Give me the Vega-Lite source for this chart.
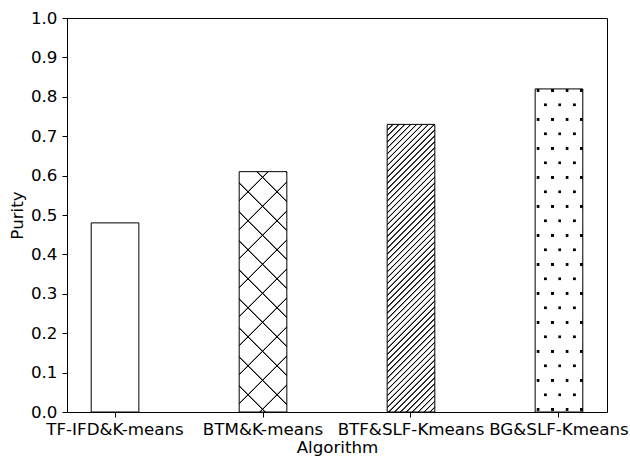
{
  "$schema": "https://vega.github.io/schema/vega-lite/v6.json",
  "width": 540,
  "height": 394,
  "autosize": {"type": "none"},
  "padding": {"left": 67, "top": 18, "right": 23, "bottom": 44},
  "background": "white",
  "config": {
    "font": "DejaVu Sans",
    "view": {"stroke": "black", "strokeWidth": 1},
    "axis": {
      "labelFont": "DejaVu Sans",
      "titleFont": "DejaVu Sans",
      "labelFontSize": 16.7,
      "titleFontSize": 16.7,
      "titleFontWeight": "normal",
      "labelColor": "black",
      "titleColor": "black",
      "tickColor": "black",
      "domainColor": "black",
      "tickSize": 5,
      "grid": false
    }
  },
  "data": {
    "values": [
      {"algorithm": "TF-IFD&K-means", "purity": 0.48},
      {"algorithm": "BTM&K-means", "purity": 0.61},
      {"algorithm": "BTF&SLF-Kmeans", "purity": 0.73},
      {"algorithm": "BG&SLF-Kmeans", "purity": 0.82}
    ]
  },
  "encoding": {
    "x": {
      "field": "algorithm",
      "type": "nominal",
      "sort": null,
      "scale": {
        "domain": ["TF-IFD&K-means", "BTM&K-means", "BTF&SLF-Kmeans", "BG&SLF-Kmeans"],
        "paddingInner": 0.678,
        "paddingOuter": 0.1635
      },
      "axis": {"title": "Algorithm", "labelAngle": 0, "labelPadding": 4, "titlePadding": 2, "domain": false, "labelOverlap": false}
    },
    "y": {
      "field": "purity",
      "type": "quantitative",
      "scale": {"domain": [0, 1], "nice": false},
      "axis": {
        "title": "Purity",
        "values": [0, 0.1, 0.2, 0.3, 0.4, 0.5, 0.6, 0.7, 0.8, 0.9, 1.0],
        "format": ".1f",
        "labelPadding": 5,
        "titlePadding": 4,
        "domain": false
      }
    }
  },
  "layer": [
    {"mark": {"type": "bar", "fill": "white"}},
    {
      "transform": [{"filter": "datum.algorithm == 'BTM&K-means'"}],
      "mark": {"type": "bar", "fill": {"gradient": "linear", "x1": 0, "y1": 0, "x2": 0.23019, "y2": 1.16098, "stops": [
        {"offset": 0.0962, "color": "rgba(0,0,0,0)"}, {"offset": 0.0988, "color": "#000"}, {"offset": 0.1012, "color": "#000"}, {"offset": 0.1038, "color": "rgba(0,0,0,0)"},
        {"offset": 0.1962, "color": "rgba(0,0,0,0)"}, {"offset": 0.1988, "color": "#000"}, {"offset": 0.2012, "color": "#000"}, {"offset": 0.2038, "color": "rgba(0,0,0,0)"},
        {"offset": 0.2962, "color": "rgba(0,0,0,0)"}, {"offset": 0.2988, "color": "#000"}, {"offset": 0.3012, "color": "#000"}, {"offset": 0.3038, "color": "rgba(0,0,0,0)"},
        {"offset": 0.3962, "color": "rgba(0,0,0,0)"}, {"offset": 0.3988, "color": "#000"}, {"offset": 0.4012, "color": "#000"}, {"offset": 0.4038, "color": "rgba(0,0,0,0)"},
        {"offset": 0.4962, "color": "rgba(0,0,0,0)"}, {"offset": 0.4988, "color": "#000"}, {"offset": 0.5012, "color": "#000"}, {"offset": 0.5038, "color": "rgba(0,0,0,0)"},
        {"offset": 0.5962, "color": "rgba(0,0,0,0)"}, {"offset": 0.5988, "color": "#000"}, {"offset": 0.6012, "color": "#000"}, {"offset": 0.6038, "color": "rgba(0,0,0,0)"},
        {"offset": 0.6962, "color": "rgba(0,0,0,0)"}, {"offset": 0.6988, "color": "#000"}, {"offset": 0.7012, "color": "#000"}, {"offset": 0.7038, "color": "rgba(0,0,0,0)"},
        {"offset": 0.7962, "color": "rgba(0,0,0,0)"}, {"offset": 0.7988, "color": "#000"}, {"offset": 0.8012, "color": "#000"}, {"offset": 0.8038, "color": "rgba(0,0,0,0)"},
        {"offset": 0.8962, "color": "rgba(0,0,0,0)"}, {"offset": 0.8988, "color": "#000"}, {"offset": 0.9012, "color": "#000"}, {"offset": 0.9038, "color": "rgba(0,0,0,0)"}
      ]}}
    },
    {
      "transform": [{"filter": "datum.algorithm == 'BTM&K-means'"}],
      "mark": {"type": "bar", "fill": {"gradient": "linear", "x1": 0, "y1": 1, "x2": 0.23019, "y2": -0.16098, "stops": [
        {"offset": 0.0862, "color": "rgba(0,0,0,0)"}, {"offset": 0.0888, "color": "#000"}, {"offset": 0.0912, "color": "#000"}, {"offset": 0.0938, "color": "rgba(0,0,0,0)"},
        {"offset": 0.1862, "color": "rgba(0,0,0,0)"}, {"offset": 0.1888, "color": "#000"}, {"offset": 0.1912, "color": "#000"}, {"offset": 0.1938, "color": "rgba(0,0,0,0)"},
        {"offset": 0.2862, "color": "rgba(0,0,0,0)"}, {"offset": 0.2888, "color": "#000"}, {"offset": 0.2912, "color": "#000"}, {"offset": 0.2938, "color": "rgba(0,0,0,0)"},
        {"offset": 0.3862, "color": "rgba(0,0,0,0)"}, {"offset": 0.3888, "color": "#000"}, {"offset": 0.3912, "color": "#000"}, {"offset": 0.3938, "color": "rgba(0,0,0,0)"},
        {"offset": 0.4862, "color": "rgba(0,0,0,0)"}, {"offset": 0.4888, "color": "#000"}, {"offset": 0.4912, "color": "#000"}, {"offset": 0.4938, "color": "rgba(0,0,0,0)"},
        {"offset": 0.5862, "color": "rgba(0,0,0,0)"}, {"offset": 0.5888, "color": "#000"}, {"offset": 0.5912, "color": "#000"}, {"offset": 0.5938, "color": "rgba(0,0,0,0)"},
        {"offset": 0.6862, "color": "rgba(0,0,0,0)"}, {"offset": 0.6888, "color": "#000"}, {"offset": 0.6912, "color": "#000"}, {"offset": 0.6938, "color": "rgba(0,0,0,0)"},
        {"offset": 0.7862, "color": "rgba(0,0,0,0)"}, {"offset": 0.7888, "color": "#000"}, {"offset": 0.7912, "color": "#000"}, {"offset": 0.7938, "color": "rgba(0,0,0,0)"},
        {"offset": 0.8862, "color": "rgba(0,0,0,0)"}, {"offset": 0.8888, "color": "#000"}, {"offset": 0.8912, "color": "#000"}, {"offset": 0.8938, "color": "rgba(0,0,0,0)"},
        {"offset": 0.9862, "color": "rgba(0,0,0,0)"}, {"offset": 0.9888, "color": "#000"}, {"offset": 0.9912, "color": "#000"}, {"offset": 0.9938, "color": "rgba(0,0,0,0)"}
      ]}}
    },
    {
      "transform": [{"filter": "datum.algorithm == 'BTF&SLF-Kmeans'"}],
      "mark": {"type": "bar", "fill": {"gradient": "linear", "x1": 0, "y1": 0, "x2": 0.33078, "y2": 1.99652, "stops": [
        {"offset": 0.0081, "color": "rgba(0,0,0,0)"}, {"offset": 0.0094, "color": "#000"}, {"offset": 0.0106, "color": "#000"}, {"offset": 0.0119, "color": "rgba(0,0,0,0)"},
        {"offset": 0.0181, "color": "rgba(0,0,0,0)"}, {"offset": 0.0194, "color": "#000"}, {"offset": 0.0206, "color": "#000"}, {"offset": 0.0219, "color": "rgba(0,0,0,0)"},
        {"offset": 0.0281, "color": "rgba(0,0,0,0)"}, {"offset": 0.0294, "color": "#000"}, {"offset": 0.0306, "color": "#000"}, {"offset": 0.0319, "color": "rgba(0,0,0,0)"},
        {"offset": 0.0381, "color": "rgba(0,0,0,0)"}, {"offset": 0.0394, "color": "#000"}, {"offset": 0.0406, "color": "#000"}, {"offset": 0.0419, "color": "rgba(0,0,0,0)"},
        {"offset": 0.0481, "color": "rgba(0,0,0,0)"}, {"offset": 0.0494, "color": "#000"}, {"offset": 0.0506, "color": "#000"}, {"offset": 0.0519, "color": "rgba(0,0,0,0)"},
        {"offset": 0.0581, "color": "rgba(0,0,0,0)"}, {"offset": 0.0594, "color": "#000"}, {"offset": 0.0606, "color": "#000"}, {"offset": 0.0619, "color": "rgba(0,0,0,0)"},
        {"offset": 0.0681, "color": "rgba(0,0,0,0)"}, {"offset": 0.0694, "color": "#000"}, {"offset": 0.0706, "color": "#000"}, {"offset": 0.0719, "color": "rgba(0,0,0,0)"},
        {"offset": 0.0781, "color": "rgba(0,0,0,0)"}, {"offset": 0.0794, "color": "#000"}, {"offset": 0.0806, "color": "#000"}, {"offset": 0.0819, "color": "rgba(0,0,0,0)"},
        {"offset": 0.0881, "color": "rgba(0,0,0,0)"}, {"offset": 0.0894, "color": "#000"}, {"offset": 0.0906, "color": "#000"}, {"offset": 0.0919, "color": "rgba(0,0,0,0)"},
        {"offset": 0.0981, "color": "rgba(0,0,0,0)"}, {"offset": 0.0994, "color": "#000"}, {"offset": 0.1006, "color": "#000"}, {"offset": 0.1019, "color": "rgba(0,0,0,0)"},
        {"offset": 0.1081, "color": "rgba(0,0,0,0)"}, {"offset": 0.1094, "color": "#000"}, {"offset": 0.1106, "color": "#000"}, {"offset": 0.1119, "color": "rgba(0,0,0,0)"},
        {"offset": 0.1181, "color": "rgba(0,0,0,0)"}, {"offset": 0.1194, "color": "#000"}, {"offset": 0.1206, "color": "#000"}, {"offset": 0.1219, "color": "rgba(0,0,0,0)"},
        {"offset": 0.1281, "color": "rgba(0,0,0,0)"}, {"offset": 0.1294, "color": "#000"}, {"offset": 0.1306, "color": "#000"}, {"offset": 0.1319, "color": "rgba(0,0,0,0)"},
        {"offset": 0.1381, "color": "rgba(0,0,0,0)"}, {"offset": 0.1394, "color": "#000"}, {"offset": 0.1406, "color": "#000"}, {"offset": 0.1419, "color": "rgba(0,0,0,0)"},
        {"offset": 0.1481, "color": "rgba(0,0,0,0)"}, {"offset": 0.1494, "color": "#000"}, {"offset": 0.1506, "color": "#000"}, {"offset": 0.1519, "color": "rgba(0,0,0,0)"},
        {"offset": 0.1581, "color": "rgba(0,0,0,0)"}, {"offset": 0.1594, "color": "#000"}, {"offset": 0.1606, "color": "#000"}, {"offset": 0.1619, "color": "rgba(0,0,0,0)"},
        {"offset": 0.1681, "color": "rgba(0,0,0,0)"}, {"offset": 0.1694, "color": "#000"}, {"offset": 0.1706, "color": "#000"}, {"offset": 0.1719, "color": "rgba(0,0,0,0)"},
        {"offset": 0.1781, "color": "rgba(0,0,0,0)"}, {"offset": 0.1794, "color": "#000"}, {"offset": 0.1806, "color": "#000"}, {"offset": 0.1819, "color": "rgba(0,0,0,0)"},
        {"offset": 0.1881, "color": "rgba(0,0,0,0)"}, {"offset": 0.1894, "color": "#000"}, {"offset": 0.1906, "color": "#000"}, {"offset": 0.1919, "color": "rgba(0,0,0,0)"},
        {"offset": 0.1981, "color": "rgba(0,0,0,0)"}, {"offset": 0.1994, "color": "#000"}, {"offset": 0.2006, "color": "#000"}, {"offset": 0.2019, "color": "rgba(0,0,0,0)"},
        {"offset": 0.2081, "color": "rgba(0,0,0,0)"}, {"offset": 0.2094, "color": "#000"}, {"offset": 0.2106, "color": "#000"}, {"offset": 0.2119, "color": "rgba(0,0,0,0)"},
        {"offset": 0.2181, "color": "rgba(0,0,0,0)"}, {"offset": 0.2194, "color": "#000"}, {"offset": 0.2206, "color": "#000"}, {"offset": 0.2219, "color": "rgba(0,0,0,0)"},
        {"offset": 0.2281, "color": "rgba(0,0,0,0)"}, {"offset": 0.2294, "color": "#000"}, {"offset": 0.2306, "color": "#000"}, {"offset": 0.2319, "color": "rgba(0,0,0,0)"},
        {"offset": 0.2381, "color": "rgba(0,0,0,0)"}, {"offset": 0.2394, "color": "#000"}, {"offset": 0.2406, "color": "#000"}, {"offset": 0.2419, "color": "rgba(0,0,0,0)"},
        {"offset": 0.2481, "color": "rgba(0,0,0,0)"}, {"offset": 0.2494, "color": "#000"}, {"offset": 0.2506, "color": "#000"}, {"offset": 0.2519, "color": "rgba(0,0,0,0)"},
        {"offset": 0.2581, "color": "rgba(0,0,0,0)"}, {"offset": 0.2594, "color": "#000"}, {"offset": 0.2606, "color": "#000"}, {"offset": 0.2619, "color": "rgba(0,0,0,0)"},
        {"offset": 0.2681, "color": "rgba(0,0,0,0)"}, {"offset": 0.2694, "color": "#000"}, {"offset": 0.2706, "color": "#000"}, {"offset": 0.2719, "color": "rgba(0,0,0,0)"},
        {"offset": 0.2781, "color": "rgba(0,0,0,0)"}, {"offset": 0.2794, "color": "#000"}, {"offset": 0.2806, "color": "#000"}, {"offset": 0.2819, "color": "rgba(0,0,0,0)"},
        {"offset": 0.2881, "color": "rgba(0,0,0,0)"}, {"offset": 0.2894, "color": "#000"}, {"offset": 0.2906, "color": "#000"}, {"offset": 0.2919, "color": "rgba(0,0,0,0)"},
        {"offset": 0.2981, "color": "rgba(0,0,0,0)"}, {"offset": 0.2994, "color": "#000"}, {"offset": 0.3006, "color": "#000"}, {"offset": 0.3019, "color": "rgba(0,0,0,0)"},
        {"offset": 0.3081, "color": "rgba(0,0,0,0)"}, {"offset": 0.3094, "color": "#000"}, {"offset": 0.3106, "color": "#000"}, {"offset": 0.3119, "color": "rgba(0,0,0,0)"},
        {"offset": 0.3181, "color": "rgba(0,0,0,0)"}, {"offset": 0.3194, "color": "#000"}, {"offset": 0.3206, "color": "#000"}, {"offset": 0.3219, "color": "rgba(0,0,0,0)"},
        {"offset": 0.3281, "color": "rgba(0,0,0,0)"}, {"offset": 0.3294, "color": "#000"}, {"offset": 0.3306, "color": "#000"}, {"offset": 0.3319, "color": "rgba(0,0,0,0)"},
        {"offset": 0.3381, "color": "rgba(0,0,0,0)"}, {"offset": 0.3394, "color": "#000"}, {"offset": 0.3406, "color": "#000"}, {"offset": 0.3419, "color": "rgba(0,0,0,0)"},
        {"offset": 0.3481, "color": "rgba(0,0,0,0)"}, {"offset": 0.3494, "color": "#000"}, {"offset": 0.3506, "color": "#000"}, {"offset": 0.3519, "color": "rgba(0,0,0,0)"},
        {"offset": 0.3581, "color": "rgba(0,0,0,0)"}, {"offset": 0.3594, "color": "#000"}, {"offset": 0.3606, "color": "#000"}, {"offset": 0.3619, "color": "rgba(0,0,0,0)"},
        {"offset": 0.3681, "color": "rgba(0,0,0,0)"}, {"offset": 0.3694, "color": "#000"}, {"offset": 0.3706, "color": "#000"}, {"offset": 0.3719, "color": "rgba(0,0,0,0)"},
        {"offset": 0.3781, "color": "rgba(0,0,0,0)"}, {"offset": 0.3794, "color": "#000"}, {"offset": 0.3806, "color": "#000"}, {"offset": 0.3819, "color": "rgba(0,0,0,0)"},
        {"offset": 0.3881, "color": "rgba(0,0,0,0)"}, {"offset": 0.3894, "color": "#000"}, {"offset": 0.3906, "color": "#000"}, {"offset": 0.3919, "color": "rgba(0,0,0,0)"},
        {"offset": 0.3981, "color": "rgba(0,0,0,0)"}, {"offset": 0.3994, "color": "#000"}, {"offset": 0.4006, "color": "#000"}, {"offset": 0.4019, "color": "rgba(0,0,0,0)"},
        {"offset": 0.4081, "color": "rgba(0,0,0,0)"}, {"offset": 0.4094, "color": "#000"}, {"offset": 0.4106, "color": "#000"}, {"offset": 0.4119, "color": "rgba(0,0,0,0)"},
        {"offset": 0.4181, "color": "rgba(0,0,0,0)"}, {"offset": 0.4194, "color": "#000"}, {"offset": 0.4206, "color": "#000"}, {"offset": 0.4219, "color": "rgba(0,0,0,0)"},
        {"offset": 0.4281, "color": "rgba(0,0,0,0)"}, {"offset": 0.4294, "color": "#000"}, {"offset": 0.4306, "color": "#000"}, {"offset": 0.4319, "color": "rgba(0,0,0,0)"},
        {"offset": 0.4381, "color": "rgba(0,0,0,0)"}, {"offset": 0.4394, "color": "#000"}, {"offset": 0.4406, "color": "#000"}, {"offset": 0.4419, "color": "rgba(0,0,0,0)"},
        {"offset": 0.4481, "color": "rgba(0,0,0,0)"}, {"offset": 0.4494, "color": "#000"}, {"offset": 0.4506, "color": "#000"}, {"offset": 0.4519, "color": "rgba(0,0,0,0)"},
        {"offset": 0.4581, "color": "rgba(0,0,0,0)"}, {"offset": 0.4594, "color": "#000"}, {"offset": 0.4606, "color": "#000"}, {"offset": 0.4619, "color": "rgba(0,0,0,0)"},
        {"offset": 0.4681, "color": "rgba(0,0,0,0)"}, {"offset": 0.4694, "color": "#000"}, {"offset": 0.4706, "color": "#000"}, {"offset": 0.4719, "color": "rgba(0,0,0,0)"},
        {"offset": 0.4781, "color": "rgba(0,0,0,0)"}, {"offset": 0.4794, "color": "#000"}, {"offset": 0.4806, "color": "#000"}, {"offset": 0.4819, "color": "rgba(0,0,0,0)"},
        {"offset": 0.4881, "color": "rgba(0,0,0,0)"}, {"offset": 0.4894, "color": "#000"}, {"offset": 0.4906, "color": "#000"}, {"offset": 0.4919, "color": "rgba(0,0,0,0)"},
        {"offset": 0.4981, "color": "rgba(0,0,0,0)"}, {"offset": 0.4994, "color": "#000"}, {"offset": 0.5006, "color": "#000"}, {"offset": 0.5019, "color": "rgba(0,0,0,0)"},
        {"offset": 0.5081, "color": "rgba(0,0,0,0)"}, {"offset": 0.5094, "color": "#000"}, {"offset": 0.5106, "color": "#000"}, {"offset": 0.5119, "color": "rgba(0,0,0,0)"},
        {"offset": 0.5181, "color": "rgba(0,0,0,0)"}, {"offset": 0.5194, "color": "#000"}, {"offset": 0.5206, "color": "#000"}, {"offset": 0.5219, "color": "rgba(0,0,0,0)"},
        {"offset": 0.5281, "color": "rgba(0,0,0,0)"}, {"offset": 0.5294, "color": "#000"}, {"offset": 0.5306, "color": "#000"}, {"offset": 0.5319, "color": "rgba(0,0,0,0)"},
        {"offset": 0.5381, "color": "rgba(0,0,0,0)"}, {"offset": 0.5394, "color": "#000"}, {"offset": 0.5406, "color": "#000"}, {"offset": 0.5419, "color": "rgba(0,0,0,0)"},
        {"offset": 0.5481, "color": "rgba(0,0,0,0)"}, {"offset": 0.5494, "color": "#000"}, {"offset": 0.5506, "color": "#000"}, {"offset": 0.5519, "color": "rgba(0,0,0,0)"},
        {"offset": 0.5581, "color": "rgba(0,0,0,0)"}, {"offset": 0.5594, "color": "#000"}, {"offset": 0.5606, "color": "#000"}, {"offset": 0.5619, "color": "rgba(0,0,0,0)"}
      ]}}
    },
    {
      "transform": [{"filter": "datum.algorithm == 'BG&SLF-Kmeans'"}],
      "mark": {"type": "bar", "fill": {"gradient": "linear", "x1": 0, "y1": 0, "x2": 1.21716, "y2": 0, "stops": [
        {"offset": 0.0207, "color": "rgba(0,0,0,0)"}, {"offset": 0.031, "color": "#000"}, {"offset": 0.069, "color": "#000"}, {"offset": 0.0793, "color": "rgba(0,0,0,0)"},
        {"offset": 0.1457, "color": "rgba(0,0,0,0)"}, {"offset": 0.156, "color": "#000"}, {"offset": 0.194, "color": "#000"}, {"offset": 0.2043, "color": "rgba(0,0,0,0)"},
        {"offset": 0.2707, "color": "rgba(0,0,0,0)"}, {"offset": 0.281, "color": "#000"}, {"offset": 0.319, "color": "#000"}, {"offset": 0.3293, "color": "rgba(0,0,0,0)"},
        {"offset": 0.3957, "color": "rgba(0,0,0,0)"}, {"offset": 0.406, "color": "#000"}, {"offset": 0.444, "color": "#000"}, {"offset": 0.4543, "color": "rgba(0,0,0,0)"},
        {"offset": 0.5207, "color": "rgba(0,0,0,0)"}, {"offset": 0.531, "color": "#000"}, {"offset": 0.569, "color": "#000"}, {"offset": 0.5793, "color": "rgba(0,0,0,0)"},
        {"offset": 0.6457, "color": "rgba(0,0,0,0)"}, {"offset": 0.656, "color": "#000"}, {"offset": 0.694, "color": "#000"}, {"offset": 0.7043, "color": "rgba(0,0,0,0)"},
        {"offset": 0.7707, "color": "rgba(0,0,0,0)"}, {"offset": 0.781, "color": "#000"}, {"offset": 0.819, "color": "#000"}, {"offset": 0.8293, "color": "rgba(0,0,0,0)"}
      ]}}
    },
    {
      "transform": [{"filter": "datum.algorithm == 'BG&SLF-Kmeans'"}],
      "mark": {"type": "bar", "fill": {"gradient": "linear", "x1": 0, "y1": 0, "x2": 0, "y2": 1.12201, "stops": [
        {"offset": 0, "color": "rgba(255,255,255,0)"}, {"offset": 0.007, "color": "rgba(255,255,255,0)"}, {"offset": 0.0087, "color": "white"},
        {"offset": 0.0393, "color": "white"}, {"offset": 0.041, "color": "rgba(255,255,255,0)"}, {"offset": 0.047, "color": "rgba(255,255,255,0)"}, {"offset": 0.0487, "color": "white"},
        {"offset": 0.0793, "color": "white"}, {"offset": 0.081, "color": "rgba(255,255,255,0)"}, {"offset": 0.087, "color": "rgba(255,255,255,0)"}, {"offset": 0.0887, "color": "white"},
        {"offset": 0.1193, "color": "white"}, {"offset": 0.121, "color": "rgba(255,255,255,0)"}, {"offset": 0.127, "color": "rgba(255,255,255,0)"}, {"offset": 0.1287, "color": "white"},
        {"offset": 0.1593, "color": "white"}, {"offset": 0.161, "color": "rgba(255,255,255,0)"}, {"offset": 0.167, "color": "rgba(255,255,255,0)"}, {"offset": 0.1687, "color": "white"},
        {"offset": 0.1993, "color": "white"}, {"offset": 0.201, "color": "rgba(255,255,255,0)"}, {"offset": 0.207, "color": "rgba(255,255,255,0)"}, {"offset": 0.2087, "color": "white"},
        {"offset": 0.2393, "color": "white"}, {"offset": 0.241, "color": "rgba(255,255,255,0)"}, {"offset": 0.247, "color": "rgba(255,255,255,0)"}, {"offset": 0.2487, "color": "white"},
        {"offset": 0.2793, "color": "white"}, {"offset": 0.281, "color": "rgba(255,255,255,0)"}, {"offset": 0.287, "color": "rgba(255,255,255,0)"}, {"offset": 0.2887, "color": "white"},
        {"offset": 0.3193, "color": "white"}, {"offset": 0.321, "color": "rgba(255,255,255,0)"}, {"offset": 0.327, "color": "rgba(255,255,255,0)"}, {"offset": 0.3287, "color": "white"},
        {"offset": 0.3593, "color": "white"}, {"offset": 0.361, "color": "rgba(255,255,255,0)"}, {"offset": 0.367, "color": "rgba(255,255,255,0)"}, {"offset": 0.3687, "color": "white"},
        {"offset": 0.3993, "color": "white"}, {"offset": 0.401, "color": "rgba(255,255,255,0)"}, {"offset": 0.407, "color": "rgba(255,255,255,0)"}, {"offset": 0.4087, "color": "white"},
        {"offset": 0.4393, "color": "white"}, {"offset": 0.441, "color": "rgba(255,255,255,0)"}, {"offset": 0.447, "color": "rgba(255,255,255,0)"}, {"offset": 0.4487, "color": "white"},
        {"offset": 0.4793, "color": "white"}, {"offset": 0.481, "color": "rgba(255,255,255,0)"}, {"offset": 0.487, "color": "rgba(255,255,255,0)"}, {"offset": 0.4887, "color": "white"},
        {"offset": 0.5193, "color": "white"}, {"offset": 0.521, "color": "rgba(255,255,255,0)"}, {"offset": 0.527, "color": "rgba(255,255,255,0)"}, {"offset": 0.5287, "color": "white"},
        {"offset": 0.5593, "color": "white"}, {"offset": 0.561, "color": "rgba(255,255,255,0)"}, {"offset": 0.567, "color": "rgba(255,255,255,0)"}, {"offset": 0.5687, "color": "white"},
        {"offset": 0.5993, "color": "white"}, {"offset": 0.601, "color": "rgba(255,255,255,0)"}, {"offset": 0.607, "color": "rgba(255,255,255,0)"}, {"offset": 0.6087, "color": "white"},
        {"offset": 0.6393, "color": "white"}, {"offset": 0.641, "color": "rgba(255,255,255,0)"}, {"offset": 0.647, "color": "rgba(255,255,255,0)"}, {"offset": 0.6487, "color": "white"},
        {"offset": 0.6793, "color": "white"}, {"offset": 0.681, "color": "rgba(255,255,255,0)"}, {"offset": 0.687, "color": "rgba(255,255,255,0)"}, {"offset": 0.6887, "color": "white"},
        {"offset": 0.7193, "color": "white"}, {"offset": 0.721, "color": "rgba(255,255,255,0)"}, {"offset": 0.727, "color": "rgba(255,255,255,0)"}, {"offset": 0.7287, "color": "white"},
        {"offset": 0.7593, "color": "white"}, {"offset": 0.761, "color": "rgba(255,255,255,0)"}, {"offset": 0.767, "color": "rgba(255,255,255,0)"}, {"offset": 0.7687, "color": "white"},
        {"offset": 0.7993, "color": "white"}, {"offset": 0.801, "color": "rgba(255,255,255,0)"}, {"offset": 0.807, "color": "rgba(255,255,255,0)"}, {"offset": 0.8087, "color": "white"},
        {"offset": 0.8393, "color": "white"}, {"offset": 0.841, "color": "rgba(255,255,255,0)"}, {"offset": 0.847, "color": "rgba(255,255,255,0)"}, {"offset": 0.8487, "color": "white"},
        {"offset": 0.8793, "color": "white"}, {"offset": 0.881, "color": "rgba(255,255,255,0)"}, {"offset": 0.887, "color": "rgba(255,255,255,0)"}, {"offset": 0.8887, "color": "white"},
        {"offset": 1, "color": "white"}
      ]}}
    },
    {
      "transform": [{"filter": "datum.algorithm == 'BG&SLF-Kmeans'"}],
      "mark": {"type": "bar", "fill": {"gradient": "linear", "x1": 0, "y1": 0, "x2": 0.48718, "y2": 1.65152, "stops": [
        {"offset": 0, "color": "rgba(255,255,255,0)"}, {"offset": 0.0225, "color": "rgba(255,255,255,0)"}, {"offset": 0.0255, "color": "white"},
        {"offset": 0.0495, "color": "white"}, {"offset": 0.0525, "color": "rgba(255,255,255,0)"}, {"offset": 0.0725, "color": "rgba(255,255,255,0)"}, {"offset": 0.0755, "color": "white"},
        {"offset": 0.0995, "color": "white"}, {"offset": 0.1025, "color": "rgba(255,255,255,0)"}, {"offset": 0.1225, "color": "rgba(255,255,255,0)"}, {"offset": 0.1255, "color": "white"},
        {"offset": 0.1495, "color": "white"}, {"offset": 0.1525, "color": "rgba(255,255,255,0)"}, {"offset": 0.1725, "color": "rgba(255,255,255,0)"}, {"offset": 0.1755, "color": "white"},
        {"offset": 0.1995, "color": "white"}, {"offset": 0.2025, "color": "rgba(255,255,255,0)"}, {"offset": 0.2225, "color": "rgba(255,255,255,0)"}, {"offset": 0.2255, "color": "white"},
        {"offset": 0.2495, "color": "white"}, {"offset": 0.2525, "color": "rgba(255,255,255,0)"}, {"offset": 0.2725, "color": "rgba(255,255,255,0)"}, {"offset": 0.2755, "color": "white"},
        {"offset": 0.2995, "color": "white"}, {"offset": 0.3025, "color": "rgba(255,255,255,0)"}, {"offset": 0.3225, "color": "rgba(255,255,255,0)"}, {"offset": 0.3255, "color": "white"},
        {"offset": 0.3495, "color": "white"}, {"offset": 0.3525, "color": "rgba(255,255,255,0)"}, {"offset": 0.3725, "color": "rgba(255,255,255,0)"}, {"offset": 0.3755, "color": "white"},
        {"offset": 0.3995, "color": "white"}, {"offset": 0.4025, "color": "rgba(255,255,255,0)"}, {"offset": 0.4225, "color": "rgba(255,255,255,0)"}, {"offset": 0.4255, "color": "white"},
        {"offset": 0.4495, "color": "white"}, {"offset": 0.4525, "color": "rgba(255,255,255,0)"}, {"offset": 0.4725, "color": "rgba(255,255,255,0)"}, {"offset": 0.4755, "color": "white"},
        {"offset": 0.4995, "color": "white"}, {"offset": 0.5025, "color": "rgba(255,255,255,0)"}, {"offset": 0.5225, "color": "rgba(255,255,255,0)"}, {"offset": 0.5255, "color": "white"},
        {"offset": 0.5495, "color": "white"}, {"offset": 0.5525, "color": "rgba(255,255,255,0)"}, {"offset": 0.5725, "color": "rgba(255,255,255,0)"}, {"offset": 0.5755, "color": "white"},
        {"offset": 0.5995, "color": "white"}, {"offset": 0.6025, "color": "rgba(255,255,255,0)"}, {"offset": 0.6225, "color": "rgba(255,255,255,0)"}, {"offset": 0.6255, "color": "white"},
        {"offset": 0.6495, "color": "white"}, {"offset": 0.6525, "color": "rgba(255,255,255,0)"}, {"offset": 0.6725, "color": "rgba(255,255,255,0)"}, {"offset": 0.6755, "color": "white"},
        {"offset": 0.6995, "color": "white"}, {"offset": 0.7025, "color": "rgba(255,255,255,0)"}, {"offset": 0.7225, "color": "rgba(255,255,255,0)"}, {"offset": 0.7255, "color": "white"},
        {"offset": 1, "color": "white"}
      ]}}
    },
    {"mark": {"type": "bar", "filled": false, "stroke": "black", "strokeWidth": 1}}
  ]
}
